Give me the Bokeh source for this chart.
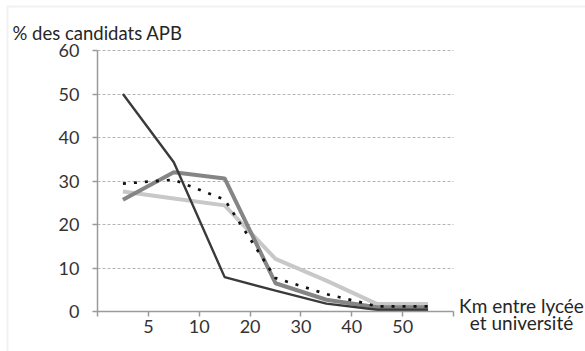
from bokeh.plotting import figure
from bokeh.models import (Range1d, FixedTicker, Label, BoxAnnotation, LinearAxis, Grid)
from bokeh.embed import file_html
from bokeh.resources import INLINE

# ---- data ----
tick_labels = ["5", "10", "20", "30", "40", "50"]
n_classes = 7
serie_fonce = [50.0, 34.3, 7.9, 4.8, 1.8, 0.4, 0.4]
serie_moyen = [25.7, 32.0, 30.6, 6.5, 2.7, 1.0, 1.0]
serie_clair = [27.6, 26.0, 24.4, 12.1, 7.1, 1.7, 1.7]
serie_point = [29.4, 30.3, 25.7, 7.7, 4.0, 1.2, 1.2]
y_ticks = [0, 10, 20, 30, 40, 50, 60]
y_max = 60

xs = [i + 0.5 for i in range(n_classes)]

FONT = "Lato"
W, H = 585, 351
# pixel layout of the plotting area (page coordinates)
AX_LEFT, AX_RIGHT = 97, 453
AX_TOP, AX_BOTTOM = 50, 311
kx = (AX_RIGHT - AX_LEFT) / n_classes
ky = (AX_BOTTOM - AX_TOP) / y_max


def ux(px):
    return (px - AX_LEFT) / kx


def vy(py):
    return (AX_BOTTOM - py) / ky


p = figure(width=W, height=H, output_backend="svg", toolbar_location=None,
           x_range=Range1d(ux(0), ux(W)), y_range=Range1d(vy(H), vy(0)),
           frame_width=W, frame_height=H,
           min_border_left=0, min_border_right=0, min_border_top=0, min_border_bottom=0,
           x_axis_location=None, y_axis_location=None)
p.outline_line_color = None
p.background_fill_color = "white"
p.border_fill_color = "white"
p.center = []

# grid
grid_kw = dict(dimension=1, ticker=FixedTicker(ticks=y_ticks), bounds=(0, y_max),
               grid_line_color="#b4b4b4", grid_line_dash="3 2", grid_line_width=1)
if "cross_bounds" in Grid.properties():
    grid_kw["cross_bounds"] = (0, n_classes)
    p.add_layout(Grid(**grid_kw))
else:
    p.segment(x0=[0] * len(y_ticks), x1=[n_classes] * len(y_ticks), y0=y_ticks, y1=y_ticks,
              line_color="#b4b4b4", line_dash="3 2", line_width=1)

# axes
overrides = {0: "", n_classes: ""}
for i, t in enumerate(tick_labels):
    overrides[i + 1] = t
xa = LinearAxis(fixed_location=0, bounds=(0, n_classes),
                ticker=FixedTicker(ticks=list(range(n_classes + 1))),
                major_label_overrides=overrides)
ya = LinearAxis(fixed_location=0, bounds=(0, y_max), ticker=FixedTicker(ticks=y_ticks))
for a in (xa, ya):
    a.axis_line_color = "#9a9a9a"
    a.axis_line_width = 1.5
    a.major_tick_line_color = "#9a9a9a"
    a.major_tick_line_width = 1.5
    a.major_tick_out = 5
    a.major_tick_in = 0
    a.minor_tick_line_color = None
    a.major_label_text_font = FONT
    a.major_label_text_font_size = "18px"
    a.major_label_text_color = "#333333"
xa.major_label_standoff = 3
ya.major_label_standoff = 13
p.add_layout(xa, "below")
p.add_layout(ya, "left")

# lines
p.line(xs, serie_clair, line_color="#c8c8c8", line_width=4)
p.line(xs, serie_moyen, line_color="#858585", line_width=4)
p.line(xs, serie_fonce, line_color="#3a3a3a", line_width=2.4)
p.line(xs, serie_point, line_color="#111111", line_width=2.7, line_dash="3 8")

# texts
p.add_layout(Label(x=ux(12), y=vy(32), text="% des candidats APB", text_font=FONT,
                   text_font_size="18.5px", text_color="#262626",
                   text_baseline="alphabetic", text_align="left"))
p.add_layout(Label(x=ux(521), y=vy(305), text="Km entre lycée", text_font=FONT,
                   text_font_size="19px", text_color="#262626",
                   text_baseline="alphabetic", text_align="center"))
p.add_layout(Label(x=ux(521), y=vy(322), text="et université", text_font=FONT,
                   text_font_size="19px", text_color="#262626",
                   text_baseline="alphabetic", text_align="center"))

# outer frame (only left and top edges fall inside the window)
p.add_layout(BoxAnnotation(left=ux(7), right=ux(W + 30), top=vy(6), bottom=vy(H + 30),
                           fill_alpha=0, line_color="#d0d0d0", line_width=2))

open("out.html", "w").write(file_html(p, INLINE))
